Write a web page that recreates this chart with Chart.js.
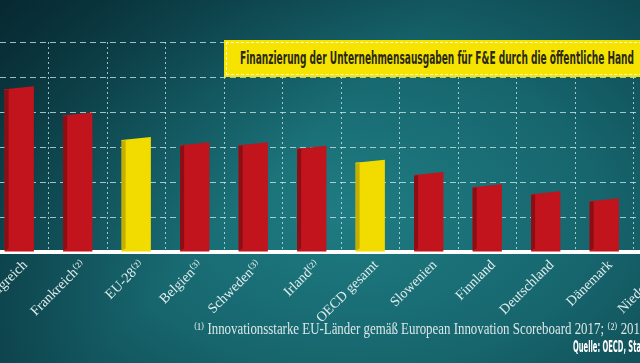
<!DOCTYPE html>
<html lang="de">
<head>
<meta charset="utf-8">
<script src="https://cdn.jsdelivr.net/npm/chart.js@4.4.1/dist/chart.umd.min.js"></script>
<style>
    html, body { margin: 0; padding: 0; }
    body {
        width: 640px; height: 363px; overflow: hidden; position: relative;
        background:
            linear-gradient(135deg, rgba(4, 28, 36, 0.65) 0%, rgba(4, 28, 36, 0) 45%),
            radial-gradient(ellipse 75% 85% at 55% 58%, #1f7c82 0%, #17666e 50%, #0c414a 100%);
    }
    #chart { position: absolute; left: -10px; top: 0; }
    .title-box {
        position: absolute; left: 224px; top: 40px; width: 460px; height: 37px;
        background: #f6e400; box-sizing: border-box;
    }
    .title-box .stitch {
        position: absolute; left: 2px; top: 2px; right: 2px; bottom: 2px;
        border: 1px dashed rgba(255, 255, 255, 0.85);
    }
    .fit { position: absolute; white-space: nowrap; transform-origin: left top; }
    #title {
        left: 16px; top: 8px;
        font-family: "Liberation Sans Narrow", "DejaVu Sans Condensed", sans-serif;
        font-weight: bold; font-size: 17px; color: #2a2918;
    }
    #footnote {
        left: 194px; top: 319px;
        font-family: "Liberation Serif", "DejaVu Serif", serif; font-size: 16.5px; color: #dbe8e8;
    }
    #source {
        left: 573px; top: 338px;
        font-family: "Liberation Sans Narrow", "DejaVu Sans Condensed", sans-serif;
        font-weight: bold; font-size: 15px; color: #ffffff;
    }
</style>
</head>
<body>
<canvas id="chart" width="702" height="363"></canvas>
<div class="title-box"><div class="stitch"></div>
    <span class="fit" id="title"><span class="m">Finanzierung der Unternehmensausgaben für F&amp;E durch die öffentliche Hand</span></span>
</div>
<span class="fit" id="footnote"><span class="m">⁽¹⁾ Innovationsstarke EU-Länder gemäß European Innovation Scoreboard 2017; ⁽²⁾ 201</span>5; ⁽³⁾ 2013</span>
<span class="fit" id="source"><span class="m">Quelle: OECD, Sta</span>tista</span>
<script>
// Daten
const categories = ['Vereinigtes Königreich', 'Frankreich⁽²⁾', 'EU-28⁽²⁾', 'Belgien⁽³⁾', 'Schweden⁽³⁾', 'Irland⁽²⁾',
    'OECD gesamt', 'Slowenien', 'Finnland', 'Deutschland', 'Dänemark', 'Niederlande'];
const values = [9.3, 7.8, 6.4, 6.1, 6.1, 5.9, 5.1, 4.4, 3.7, 3.3, 2.9, 2.4];
const highlighted = ['EU-28⁽²⁾', 'OECD gesamt'];
const yTicks = [0, 2, 4, 6, 8, 10, 12];

const RED = '#c2141d', RED_SIDE = '#8c0d13';
const YELLOW = '#f2dc00', YELLOW_SIDE = '#c4ae00';
const GRID = 'rgba(210, 236, 240, 0.75)';

// Texte horizontal auf die Breite im Original einpassen
function fitWidth(id, target) {
    const el = document.getElementById(id);
    const w = el.querySelector('.m').getBoundingClientRect().width;
    el.style.transform = `scaleX(${target / w})`;
}
fitWidth('title', 394);
fitWidth('footnote', 446);
fitWidth('source', 68);

// 3D-Effekt: dunkle Seitenfläche + schräge Oberkante
const bar3d = {
    id: 'bar3d',
    afterDatasetsDraw(chart) {
        const ctx = chart.ctx;
        chart.getDatasetMeta(0).data.forEach((bar, i) => {
            const hi = highlighted.includes(categories[i]);
            const left = bar.x - bar.width / 2, right = bar.x + bar.width / 2;
            ctx.save();
            ctx.fillStyle = hi ? YELLOW : RED;
            ctx.beginPath();
            ctx.moveTo(left, bar.y);
            ctx.lineTo(right, bar.y - 3);
            ctx.lineTo(right, bar.y + 1);
            ctx.lineTo(left, bar.y + 1);
            ctx.fill();
            ctx.fillStyle = hi ? YELLOW_SIDE : RED_SIDE;
            ctx.beginPath();
            ctx.moveTo(left, bar.y + 1);
            ctx.lineTo(left + 4, bar.y);
            ctx.lineTo(left + 4, bar.base - 3);
            ctx.lineTo(left, bar.base - 1);
            ctx.fill();
            ctx.restore();
        });
    }
};

new Chart(document.getElementById('chart'), {
    type: 'bar',
    data: {
        labels: categories,
        datasets: [{
            data: values,
            backgroundColor: categories.map(c => highlighted.includes(c) ? YELLOW : RED),
            barPercentage: 0.5,
            categoryPercentage: 1.0,
            borderWidth: 0
        }]
    },
    options: {
        responsive: false,
        animation: false,
        layout: { padding: { top: 42, left: 0, right: 0, bottom: 0 } },
        plugins: { legend: { display: false }, tooltip: { enabled: false } },
        scales: {
            x: {
                grid: { color: GRID, lineWidth: 1, offset: true, drawTicks: false },
                border: { display: true, color: '#ffffff', width: 4, dash: [2, 3] },
                ticks: {
                    color: '#e2eded', autoSkip: false, minRotation: 45, maxRotation: 45, padding: 5, labelOffset: 6,
                    font: { family: '"Liberation Serif", "DejaVu Serif", serif', size: 14 }
                },
                afterFit(axis) { axis.height = 111; axis.paddingLeft = 0; axis.paddingRight = 0; }
            },
            y: {
                min: yTicks[0], max: yTicks[yTicks.length - 1],
                afterBuildTicks(axis) { axis.ticks = yTicks.map(v => ({ value: v })); },
                ticks: { display: false },
                grid: { color: GRID, lineWidth: 1, drawTicks: false },
                border: { display: false, dash: [6, 4] },
                afterFit(axis) { axis.width = 0; }
            }
        }
    },
    plugins: [bar3d]
});
</script>
</body>
</html>
